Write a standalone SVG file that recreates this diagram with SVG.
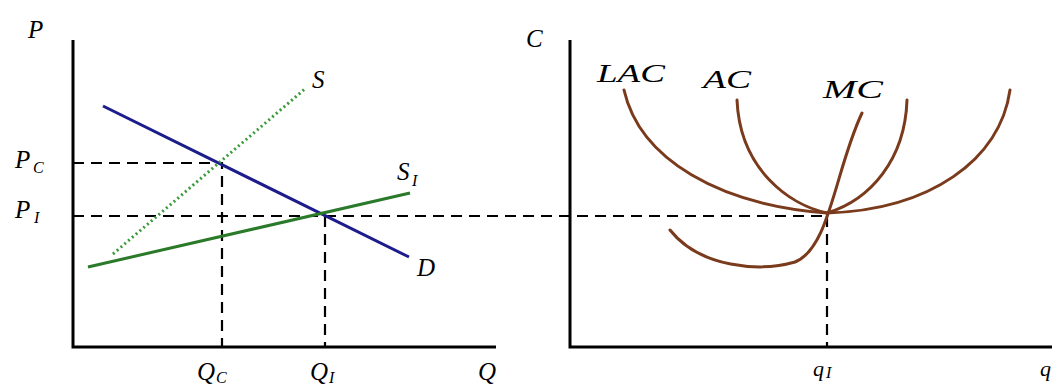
<svg xmlns="http://www.w3.org/2000/svg" width="1052" height="387" viewBox="0 0 1052 387">
<style>
.ax{stroke:#000;stroke-width:3;fill:none}
.dash{stroke:#000;stroke-width:2.2;stroke-dasharray:11 7;fill:none}
.cost{stroke:#7a3a1c;stroke-width:3;fill:none;stroke-linecap:round}
text{font-family:"Liberation Serif","Times New Roman",serif;font-style:italic;fill:#000}
.lab{font-size:25px}
.sub{font-size:16px}
</style>
<rect width="1052" height="387" fill="#fff"/>
<g id="left-axes">
<path class="ax" d="M73,40 V347 H496"/>
</g>
<g id="right-axes">
<path class="ax" d="M570,40 V347 H1052"/>
</g>
<g id="connectors">
<path class="dash" d="M73,163 H222 V347"/>
<path class="dash" d="M73,216 H827"/>
<path class="dash" d="M325,216 V347"/>
<path class="dash" d="M827,216 V347"/>
</g>
<g id="demand">
<line x1="103" y1="106" x2="409" y2="257" stroke="#1c1c8c" stroke-width="3"/>
</g>
<g id="supply-S">
<line x1="113" y1="254" x2="306" y2="88" stroke="#3a9a3a" stroke-width="3" stroke-dasharray="2 3"/>
</g>
<g id="supply-SL">
<line x1="88" y1="267" x2="410" y2="193" stroke="#2a7a2a" stroke-width="3"/>
</g>
<g id="LAC">
<path class="cost" d="M624,90 C640,160 720,205 827,213 C930,210 1000,160 1010,90"/>
</g>
<g id="AC">
<path class="cost" d="M737,100 C740,170 790,205 827,213 C870,200 905,160 907,100"/>
</g>
<g id="MC">
<path class="cost" d="M670,230 C700,268 760,272 795,262 C830,248 835,170 862,113"/>
</g>
<g id="labels">
<text class="lab" x="28" y="38">P</text>
<text class="lab" x="15" y="168">P</text><text class="sub" x="33" y="173">C</text>
<text class="lab" x="15" y="218">P</text><text class="sub" x="34" y="223">I</text>
<text class="lab" x="312" y="88">S</text>
<text class="lab" x="397" y="180">S</text><text class="sub" x="412" y="186">I</text>
<text class="lab" x="417" y="276">D</text>
<text class="lab" x="197" y="380">Q</text><text class="sub" x="216" y="383">C</text>
<text class="lab" x="310" y="380">Q</text><text class="sub" x="329" y="383">I</text>
<text class="lab" x="478" y="380">Q</text>
<text class="lab" x="526" y="47">C</text>
<text class="lab" x="597" y="82" textLength="68" lengthAdjust="spacingAndGlyphs">LAC</text>
<text class="lab" x="703" y="88" textLength="48" lengthAdjust="spacingAndGlyphs">AC</text>
<text class="lab" x="823" y="98" textLength="60" lengthAdjust="spacingAndGlyphs">MC</text>
<text class="lab" x="813" y="376" style="font-size:22px">q</text><text class="sub" x="826" y="378">I</text>
<text class="lab" x="1040" y="376" style="font-size:22px">q</text>
</g>
</svg>
